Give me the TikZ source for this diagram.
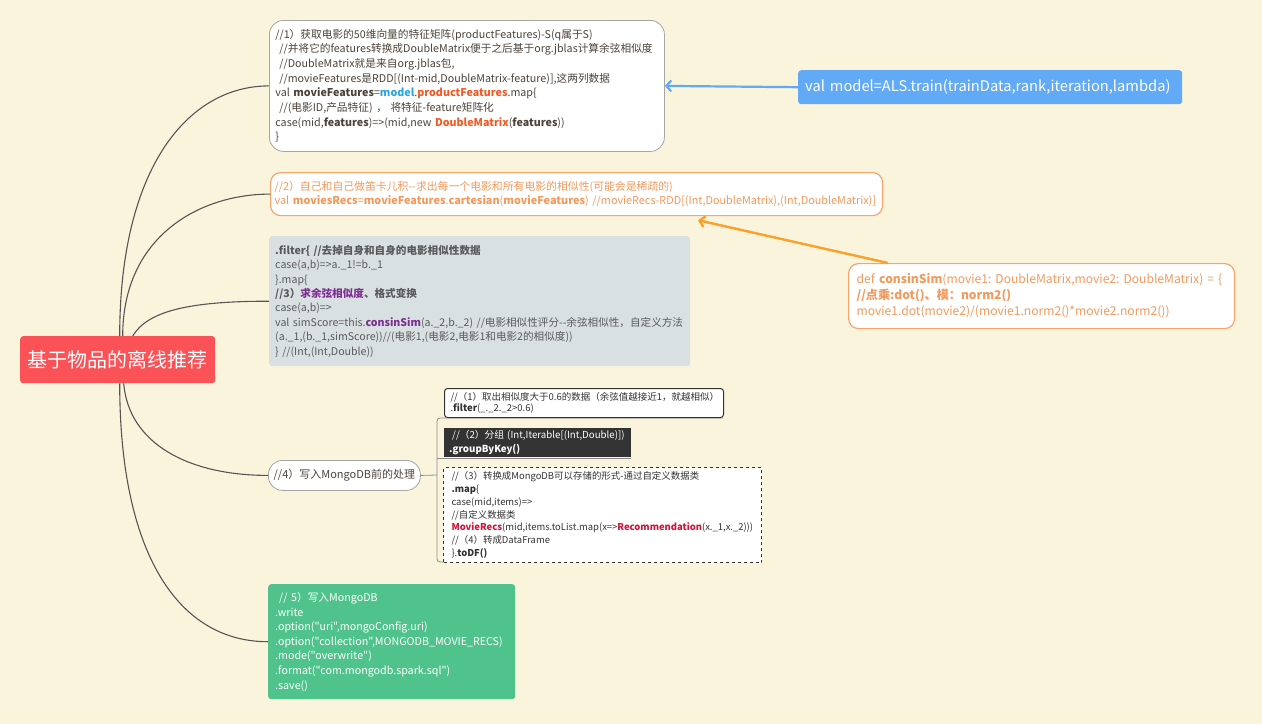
\documentclass[tikz,border=0pt]{standalone}
\usepackage{fontspec}
\setmainfont{Noto Sans CJK SC}[Ligatures=TeXOff]
\usetikzlibrary{arrows.meta}
\definecolor{bgc}{HTML}{FBF4DC}
\definecolor{rootred}{HTML}{FA5257}
\definecolor{txtA}{HTML}{4D4339}
\definecolor{txtC}{HTML}{5A5A5A}
\definecolor{grayfill}{HTML}{D9E0E2}
\definecolor{orangetxt}{HTML}{F2995C}
\definecolor{orangeline}{HTML}{F7A46D}
\definecolor{orangearrow}{HTML}{F9A12A}
\definecolor{bluefill}{HTML}{63AAF6}
\definecolor{greenfill}{HTML}{4FC38B}
\definecolor{purp}{HTML}{7D2E91}
\definecolor{redtxt}{HTML}{D0153A}
\definecolor{modelblue}{HTML}{2AA6E0}
\definecolor{pfred}{HTML}{F15A24}
\definecolor{darkbox}{HTML}{333333}
\definecolor{branchc}{HTML}{555555}
\definecolor{bracketc}{HTML}{8A8A8A}
\newcommand\cl[1]{\mbox{#1}}
\frenchspacing
\tikzset{
  box/.style={anchor=north west, inner ysep=0pt, align=left},
  branch/.style={draw=branchc, line width=1.1pt},
  bracket/.style={draw=bracketc, line width=0.8pt},
}
\begin{document}
\begin{tikzpicture}[x=1pt,y=-1pt]
\fill[bgc] (0,0) rectangle (1262,724);
\useasboundingbox (0,0) rectangle (1262,724);

% root
\node[fill=rootred, rounded corners=3pt, text=white, minimum width=195pt, minimum height=47pt,
  anchor=north west, inner sep=0pt, font=\fontsize{20}{24}\selectfont] (root) at (20,336) {基于物品的离线推荐};

\path (269,20) coordinate (Apos) (270,172) coordinate (Bpos) (269,236) coordinate (Cpos)
      (268,460) coordinate (Epos) (268,584) coordinate (Fpos);

% box A
\node[box, draw=gray!70, line width=0.8pt, fill=white, rounded corners=14pt, inner xsep=6pt,
  text width=383pt, minimum height=131pt, text=txtA, font=\fontsize{10.7}{14.67}\selectfont] (A) at (Apos) {%
\cl{//1）获取电影的50维向量的特征矩阵(productFeatures)-S(q属于S)}\\
\cl{\hspace{4pt}//并将它的features转换成DoubleMatrix便于之后基于org.jblas计算余弦相似度}\\
\cl{\hspace{4pt}//DoubleMatrix就是来自org.jblas包,}\\
\cl{\hspace{4pt}//movieFeatures是RDD[(Int-mid,DoubleMatrix-feature)],这两列数据}\\
\cl{val \textbf{movieFeatures}=\textcolor{modelblue}{\textbf{model}}.\textcolor{pfred}{\textbf{productFeatures}}.map\{}\\
\cl{\hspace{4pt}//(电影ID,产品特征) ， 将特征-feature矩阵化}\\
\cl{case(mid,\textbf{features})=>(mid,new \textcolor{pfred}{\textbf{DoubleMatrix}}(\textbf{features}))}\\
\cl{\}}};

% box B
\node[box, draw=orangeline, line width=1.2pt, fill=white, rounded corners=10pt, inner xsep=4pt,
  text width=604pt, minimum height=43pt, text=orangetxt, font=\fontsize{10.85}{14.3}\selectfont] (B) at (Bpos) {%
\cl{//2）自己和自己做笛卡儿积--求出每一个电影和所有电影的相似性(可能会是稀疏的)}\\
\cl{val \textbf{moviesRecs}=\textbf{movieFeatures}.\textbf{cartesian}(\textbf{movieFeatures}) //movieRecs-RDD[(Int,DoubleMatrix),(Int,DoubleMatrix)]}};

% box C
\node[box, fill=grayfill, rounded corners=3pt, inner xsep=6pt,
  text width=409pt, minimum height=130pt, text=txtC, font=\fontsize{10.6}{14.4}\selectfont] (C) at (Cpos) {%
\cl{\textbf{.filter\{ //去掉自身和自身的电影相似性数据}}\\
\cl{case(a,b)=>a.\_1!=b.\_1}\\
\cl{\}.map\{}\\
\cl{\textbf{//3）\textcolor{purp}{求余弦相似度}、格式变换}}\\
\cl{case(a,b)=>}\\
\cl{val simScore=this.\textcolor{purp}{\textbf{consinSim}}(a.\_2,b.\_2) //电影相似性评分--余弦相似性，自定义方法}\\
\cl{(a.\_1,(b.\_1,simScore))//(电影1,(电影2,电影1和电影2的相似度))}\\
\cl{\} //(Int,(Int,Double))}};

% box D
\node[box, draw=orangeline, line width=1.2pt, fill=white, rounded corners=10pt, inner xsep=8pt,
  text width=370pt, minimum height=65pt, text=orangetxt, font=\fontsize{12.1}{16}\selectfont] (D) at (848,263) {%
\cl{def \textbf{consinSim}(movie1: DoubleMatrix,movie2: DoubleMatrix) = \{}\\
\cl{\textbf{//点乘:dot()、模：norm2()}}\\
\cl{movie1.dot(movie2)/(movie1.norm2()*movie2.norm2())}};

% blue box
\node[box, fill=bluefill, rounded corners=3pt, inner xsep=7pt, text width=370pt, minimum height=34pt,
  text=white, font=\fontsize{14.7}{17}\selectfont] (M) at (798,70) {\cl{val model=ALS.train(trainData,rank,iteration,lambda)}};

% E pill
\node[anchor=north west, draw=gray!70, line width=0.8pt, fill=white, rounded corners=14pt, inner sep=0pt,
  minimum width=152pt, minimum height=30pt, text=txtA, font=\fontsize{11}{13}\selectfont] (E) at (Epos) {//4）写入MongoDB前的处理};

% green box
\node[box, fill=greenfill, rounded corners=3pt, inner xsep=7pt, text width=233pt, minimum height=115pt,
  text=white, font=\fontsize{10.7}{14.6}\selectfont] (F) at (Fpos) {%
\cl{\hspace{4pt}// 5）写入MongoDB}\\
\cl{.write}\\
\cl{.option("uri",mongoConfig.uri)}\\
\cl{.option("collection",MONGODB\_MOVIE\_RECS)}\\
\cl{.mode("overwrite")}\\
\cl{.format("com.mongodb.spark.sql")}\\
\cl{.save()}};

% bracket for E children
\coordinate (bx) at (437,475);
\draw[bracket] (E.east) -- (bx);
\draw[bracket, rounded corners=3pt] (723,418) -- (437,418) -- (437,562) -- (761,562);
\draw[bracket] (437,458) -- (631,458);

% children of E
\node[box, draw=darkbox, line width=1pt, fill=white, rounded corners=3pt, inner xsep=6pt, text width=267pt,
  minimum height=29pt, text=darkbox, font=\fontsize{9.5}{11.5}\selectfont] (n1) at (444,388) {%
\cl{//（1）取出相似度大于0.6的数据（余弦值越接近1，就越相似）}\\
\cl{.\textbf{filter}(\_.\_2.\_2>0.6)}};
\node[box, fill=darkbox, inner xsep=5pt, text width=177pt, minimum height=29pt,
  text=white, font=\fontsize{9.7}{13.5}\selectfont] (n2) at (444,428) {%
\cl{\hspace{3pt}//（2）分组 (Int,Iterable[(Int,Double)])}\\
\cl{\textbf{.groupByKey()}}};
\node[box, draw=darkbox, dashed, line width=1pt, fill=white, inner xsep=8pt, text width=302pt,
  minimum height=95pt, text=darkbox, font=\fontsize{9.45}{12.8}\selectfont] (n3) at (443,467) {%
\cl{//（3）转换成MongoDB可以存储的形式-通过自定义数据类}\\
\cl{\textbf{.map}\{}\\
\cl{case(mid,items)=>}\\
\cl{//自定义数据类}\\
\cl{\textcolor{redtxt}{\textbf{MovieRecs}}(mid,items.toList.map(x=>\textcolor{redtxt}{\textbf{Recommendation}}(x.\_1,x.\_2)))}\\
\cl{//（4）转成DataFrame}\\
\cl{\}.\textbf{toDF()}}};

% branches from root
\draw[branch] ([xshift=2pt]root.north) .. controls +(0,-170) and +(-80,0) .. (A.west);
\draw[branch] ([xshift=5pt]root.north) .. controls +(0,-100) and +(-70,0) .. (B.west);
\draw[branch] ([xshift=15pt]root.north) .. controls +(15,-25) and +(-80,0) .. (C.west);
\draw[branch] ([xshift=6pt]root.south) .. controls +(5,60) and +(-80,0) .. (E.west);
\draw[branch] ([xshift=2pt]root.south) .. controls +(0,170) and +(-90,0) .. (F.west);

% arrows
\draw[bluefill, line width=2.2pt, -{Straight Barb[length=5pt,width=11pt]}] (M.west) -- (A.east);
\draw[orangearrow, line width=2.4pt, -{Straight Barb[length=5pt,width=11pt]}]
  ([xshift=40pt]D.north west) -- ([xshift=428pt,yshift=-4pt]B.south west);
\end{tikzpicture}
\end{document}
